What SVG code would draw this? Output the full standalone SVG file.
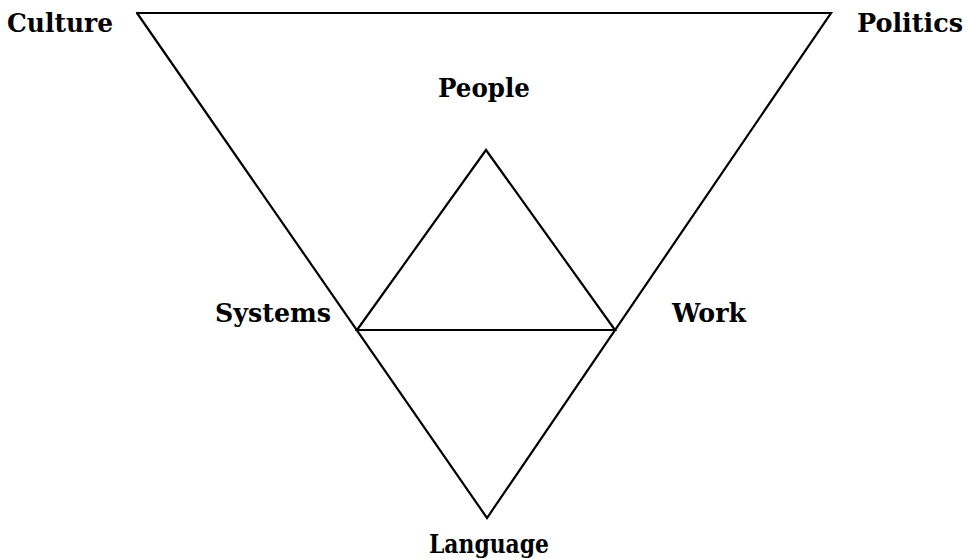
<svg xmlns="http://www.w3.org/2000/svg" width="967" height="559" viewBox="0 0 967 559">
<style>
.lbl{font-family:"DejaVu Serif","Liberation Serif",serif;font-weight:bold;font-size:25.5px;fill:#000;text-anchor:middle}
.ln{stroke:#000;stroke-width:2.2;fill:none;stroke-linecap:round;stroke-linejoin:miter}
</style>
<rect width="967" height="559" fill="#fff"/>
<g id="connectors">
<polyline class="ln" points="137,13 831,13 487,518 137,13"/>
<polygon class="ln" points="486,150 615,330 357,330"/>
</g>
<g id="culture"><text class="lbl" x="60" y="32" textLength="106" lengthAdjust="spacingAndGlyphs">Culture</text></g>
<g id="politics"><text class="lbl" x="910" y="32" textLength="106" lengthAdjust="spacingAndGlyphs">Politics</text></g>
<g id="people"><text class="lbl" x="484" y="97" textLength="92" lengthAdjust="spacingAndGlyphs">People</text></g>
<g id="systems"><text class="lbl" x="273" y="322" textLength="116" lengthAdjust="spacingAndGlyphs">Systems</text></g>
<g id="work"><text class="lbl" x="709" y="322" textLength="74" lengthAdjust="spacingAndGlyphs">Work</text></g>
<g id="language"><text class="lbl" x="489" y="553" textLength="120" lengthAdjust="spacingAndGlyphs">Language</text></g>
</svg>
